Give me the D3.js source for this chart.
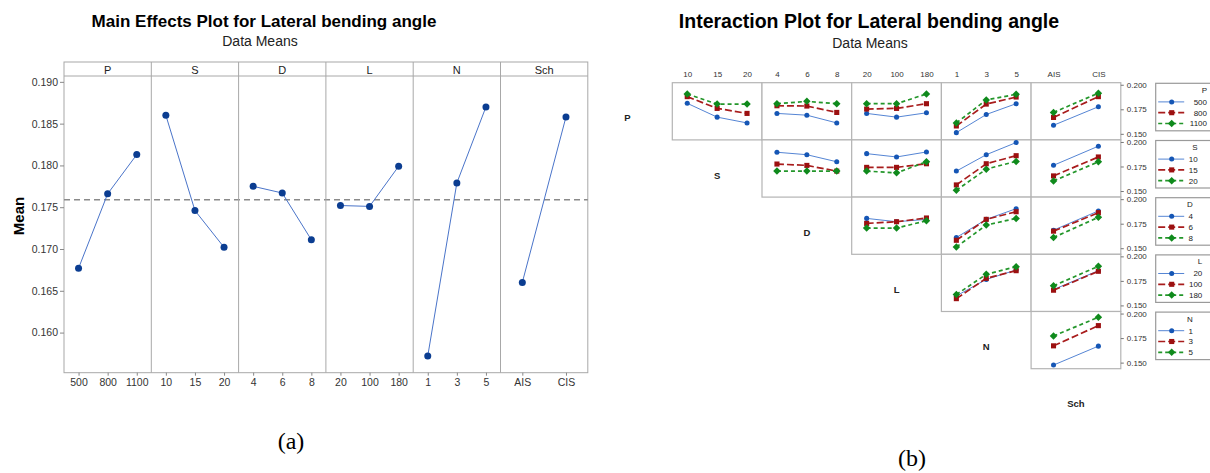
<!DOCTYPE html>
<html>
<head>
<meta charset="utf-8">
<script src="https://cdn.jsdelivr.net/npm/d3@7"></script>
<style>
  body { margin: 0; background: #fff; }
  svg { display: block; }
  text { font-family: "Liberation Sans", Arial, sans-serif; fill: #222; }
</style>
</head>
<body>
<svg id="chart" width="1210" height="473"></svg>
<script>
//------------------------------------------------------------------------------
// data
//------------------------------------------------------------------------------
var factors = ["P", "S", "D", "L", "N", "Sch"];

var levelsP = ["500", "800", "1100"];
var levelsS = ["10", "15", "20"];
var levelsD = ["4", "6", "8"];
var levelsL = ["20", "100", "180"];
var levelsN = ["1", "3", "5"];
var levelsSch = ["AIS", "CIS"];

// main effects (a)
var meanP = [0.1677, 0.1766, 0.1813];
var meanS = [0.1860, 0.1746, 0.1702];
var meanD = [0.1775, 0.1767, 0.1711];
var meanL = [0.1752, 0.1751, 0.1799];
var meanN = [0.1572, 0.1779, 0.1870];
var meanSch = [0.1660, 0.1858];
var grandMean = 0.1759;
var mainTicks = [0.160, 0.165, 0.170, 0.175, 0.180, 0.185, 0.190];

// interaction means (b): one row per level of the row factor
var intPS = [[0.1811, 0.1670, 0.1611], [0.1879, 0.1759, 0.1708], [0.1906, 0.1803, 0.1803]];
var intPD = [[0.1708, 0.1690, 0.1611], [0.1786, 0.1783, 0.1718], [0.1807, 0.1831, 0.1807]];
var intPL = [[0.1708, 0.1670, 0.1714], [0.1752, 0.1759, 0.1807], [0.1807, 0.1807, 0.1906]];
var intPN = [[0.1512, 0.1697, 0.1807], [0.1580, 0.1803, 0.1875], [0.1611, 0.1845, 0.1903]];
var intPSch = [[0.1587, 0.1776], [0.1667, 0.1879], [0.1718, 0.1914]];
var intSD = [[0.1895, 0.1870, 0.1798], [0.1775, 0.1761, 0.1703], [0.1703, 0.1703, 0.1703]];
var intSL = [[0.1881, 0.1847, 0.1898], [0.1741, 0.1741, 0.1778], [0.1703, 0.1685, 0.1798]];
var intSN = [[0.1703, 0.1870, 0.1994], [0.1562, 0.1778, 0.1860], [0.1507, 0.1723, 0.1802]];
var intSSch = [[0.1762, 0.1957], [0.1654, 0.1847], [0.1603, 0.1798]];
var intDL = [[0.1804, 0.1770, 0.1794], [0.1753, 0.1770, 0.1808], [0.1705, 0.1705, 0.1780]];
var intDN = [[0.1609, 0.1794, 0.1903], [0.1581, 0.1794, 0.1872], [0.1512, 0.1736, 0.1804]];
var intDSch = [[0.1684, 0.1880], [0.1674, 0.1862], [0.1609, 0.1815]];
var intLN = [[0.1597, 0.1765, 0.1861], [0.1569, 0.1776, 0.1854], [0.1611, 0.1817, 0.1895]];
var intLSch = [[0.1662, 0.1854], [0.1655, 0.1848], [0.1700, 0.1899]];
var intNSch = [[0.1475, 0.1668], [0.1671, 0.1877], [0.1771, 0.1963]];
var intTicks = [0.150, 0.175, 0.200];

//------------------------------------------------------------------------------
var levels = { P: levelsP, S: levelsS, D: levelsD, L: levelsL, N: levelsN, Sch: levelsSch };
var means = { P: meanP, S: meanS, D: meanD, L: meanL, N: meanN, Sch: meanSch };
var inter = {
	P: { S: intPS, D: intPD, L: intPL, N: intPN, Sch: intPSch },
	S: { D: intSD, L: intSL, N: intSN, Sch: intSSch },
	D: { L: intDL, N: intDN, Sch: intDSch },
	L: { N: intLN, Sch: intLSch },
	N: { Sch: intNSch }
};

var svg = d3.select("#chart");
var fmt = d3.format(".3f");
var grid = "#a8a8a8";

//------------------------------------------------------------------------------
// (a) main effects plot
//------------------------------------------------------------------------------
var ma = { l: 64, r: 587.8, t: 62, strip: 76, b: 372.7 };

svg.append("text").attr("x", 264).attr("y", 27).attr("text-anchor", "middle")
	.style("font-size", "17px").style("font-weight", "bold").style("fill", "#000")
	.text("Main Effects Plot for Lateral bending angle");
svg.append("text").attr("x", 260).attr("y", 46).attr("text-anchor", "middle")
	.style("font-size", "14px").text("Data Means");

var y = d3.scaleLinear().domain([0.1552, 0.1907]).range([ma.b, ma.strip]);
var band = d3.scaleBand().domain(factors).range([ma.l, ma.r]);

var ga = svg.append("g");

// frame + strip
ga.append("rect").attr("x", ma.l).attr("y", ma.t).attr("width", ma.r - ma.l).attr("height", ma.b - ma.t)
	.attr("fill", "#fff").attr("stroke", grid);
ga.append("line").attr("x1", ma.l).attr("x2", ma.r).attr("y1", ma.strip).attr("y2", ma.strip).attr("stroke", grid);

// y axis
var yAxis = ga.append("g").attr("transform", "translate(" + ma.l + ",0)")
	.call(d3.axisLeft(y).tickValues(mainTicks).tickFormat(fmt).tickSize(4).tickSizeOuter(0));
yAxis.select(".domain").remove();
yAxis.selectAll("line").attr("stroke", "#888");
yAxis.selectAll("text").style("font-size", "10.5px").style("fill", "#333").attr("x", -6);

svg.append("text").attr("transform", "translate(24,216)rotate(-90)").attr("text-anchor", "middle")
	.style("font-size", "15px").style("font-weight", "bold").style("fill", "#000").text("Mean");

// grand mean reference
ga.append("line").attr("x1", ma.l).attr("x2", ma.r).attr("y1", y(grandMean)).attr("y2", y(grandMean))
	.attr("stroke", "#8a8a8a").attr("stroke-width", 1.6).attr("stroke-dasharray", "6,4");

factors.forEach(function(f, i) {
	var x0 = band(f), bw = band.bandwidth();
	var x = d3.scalePoint().domain(levels[f]).range([0, bw]).padding(0.5);
	var g = ga.append("g").attr("transform", "translate(" + x0 + ",0)");

	if (i > 0) g.append("line").attr("x1", 0).attr("x2", 0).attr("y1", ma.t).attr("y2", ma.b).attr("stroke", grid);

	g.append("text").attr("x", bw / 2).attr("y", 74).attr("text-anchor", "middle")
		.style("font-size", "11px").text(f);

	var xa = g.append("g").attr("transform", "translate(0," + ma.b + ")")
		.call(d3.axisBottom(x).tickSize(3).tickSizeOuter(0));
	xa.select(".domain").remove();
	xa.selectAll("line").attr("stroke", "#888");
	xa.selectAll("text").style("font-size", "10.5px").style("fill", "#333").attr("y", 6);

	var pts = levels[f].map(function(l, k) { return [x(l), y(means[f][k])]; });
	g.append("path").attr("d", d3.line()(pts)).attr("fill", "none")
		.attr("stroke", "#4a74c9").attr("stroke-width", 1);
	g.selectAll("circle").data(pts).enter().append("circle")
		.attr("cx", function(d) { return d[0]; }).attr("cy", function(d) { return d[1]; })
		.attr("r", 3.5).attr("fill", "#0b3d91");
});

svg.append("text").attr("x", 291).attr("y", 449).attr("text-anchor", "middle")
	.style("font-family", "'Liberation Serif', 'Times New Roman', serif").style("font-size", "24px").style("fill", "#000")
	.text("(a)");

//------------------------------------------------------------------------------
// (b) interaction plot
//------------------------------------------------------------------------------
var colF = ["S", "D", "L", "N", "Sch"];
var rowF = ["P", "S", "D", "L", "N"];
var colScale = d3.scaleBand().domain(colF).range([672.3, 1120.8]);
var rowScale = d3.scaleBand().domain(rowF).range([82.7, 368.7]);
var cw = colScale.bandwidth(), rh = rowScale.bandwidth();

svg.append("text").attr("x", 869).attr("y", 28).attr("text-anchor", "middle")
	.style("font-size", "19.5px").style("font-weight", "bold").style("fill", "#000")
	.text("Interaction Plot for Lateral bending angle");
svg.append("text").attr("x", 870).attr("y", 48).attr("text-anchor", "middle")
	.style("font-size", "14px").text("Data Means");

var series = [
	{ line: "#5585d4", mark: "#1556b5", dash: null, w: 1, sym: d3.symbol(d3.symbolCircle, 20), rot: 0 },
	{ line: "#a81c1c", mark: "#9c1010", dash: "7,3", w: 1.7, sym: d3.symbol(d3.symbolSquare, 26), rot: 0 },
	{ line: "#23962a", mark: "#0f8a1c", dash: "4,3", w: 1.7, sym: d3.symbol(d3.symbolSquare, 28), rot: 45 }
];

var gb = svg.append("g");

// column tick labels on top
colF.forEach(function(cf) {
	var x = d3.scalePoint().domain(levels[cf]).range([0, cw]).padding(0.5);
	var xa = gb.append("g").attr("transform", "translate(" + colScale(cf) + ",80)")
		.call(d3.axisTop(x).tickSize(0).tickSizeOuter(0));
	xa.select(".domain").remove();
	xa.selectAll("text").style("font-size", "8px").style("fill", "#333").attr("y", -3);
});

// diagonal factor names
factors.forEach(function(f, i) {
	gb.append("text").attr("x", 672.3 + (i - 0.5) * cw).attr("y", 82.7 + i * rh + 38.7)
		.attr("text-anchor", "middle").style("font-size", "9.5px").style("font-weight", "bold").text(f);
});

rowF.forEach(function(rf, ri) {
	var top = rowScale(rf);
	var yr = d3.scaleLinear().domain([0.1438, 0.2021]).range([top + rh, top]);

	colF.forEach(function(cf, ci) {
		if (ci < ri) return;
		var x = d3.scalePoint().domain(levels[cf]).range([0, cw]).padding(0.5);
		var g = gb.append("g").attr("transform", "translate(" + colScale(cf) + ",0)");
		g.append("rect").attr("x", 0).attr("y", top).attr("width", cw).attr("height", rh)
			.attr("fill", "#fff").attr("stroke", "#b4b4b4").attr("stroke-width", 1.2);

		inter[rf][cf].forEach(function(vals, si) {
			var s = series[si];
			var pts = vals.map(function(v, k) { return [x(levels[cf][k]), yr(v)]; });
			g.append("path").attr("d", d3.line()(pts)).attr("fill", "none")
				.attr("stroke", s.line).attr("stroke-width", s.w).attr("stroke-dasharray", s.dash);
			g.selectAll(".m" + si).data(pts).enter().append("path").attr("class", "m" + si)
				.attr("d", s.sym)
				.attr("transform", function(d) { return "translate(" + d[0] + "," + d[1] + ")rotate(" + s.rot + ")"; })
				.attr("fill", s.mark);
		});
	});

	// right y axis
	var ya = gb.append("g").attr("transform", "translate(1120.8,0)")
		.call(d3.axisRight(yr).tickValues(intTicks).tickFormat(fmt).tickSize(3).tickSizeOuter(0));
	ya.select(".domain").remove();
	ya.selectAll("line").attr("stroke", "#777");
	ya.selectAll("text").style("font-size", "8px").style("fill", "#333").attr("x", 6);

	// legend
	var lg = gb.append("g").attr("transform", "translate(1155.7," + (top + 0.6) + ")");
	lg.append("rect").attr("width", 62).attr("height", 47.5).attr("fill", "#fff")
		.attr("stroke", "#9a9a9a").attr("stroke-width", 1.2);
	var maxLen = d3.max(levels[rf], function(l) { return l.length; });
	var tx = 32.5 + maxLen * 4.7;
	lg.append("text").attr("x", tx).attr("y", 9.5).attr("text-anchor", "end")
		.style("font-size", "8px").text(rf);
	levels[rf].forEach(function(l, k) {
		var s = series[k], yy = 18.6 + k * 10.8;
		lg.append("line").attr("x1", 2.5).attr("x2", 28.5).attr("y1", yy).attr("y2", yy)
			.attr("stroke", s.line).attr("stroke-width", s.w).attr("stroke-dasharray", s.dash);
		lg.append("path").attr("d", s.sym)
			.attr("transform", "translate(16," + yy + ")rotate(" + s.rot + ")").attr("fill", s.mark);
		lg.append("text").attr("x", tx).attr("y", yy + 3).attr("text-anchor", "end")
			.style("font-size", "8px").text(l);
	});
});

svg.append("text").attr("x", 912).attr("y", 466).attr("text-anchor", "middle")
	.style("font-family", "'Liberation Serif', 'Times New Roman', serif").style("font-size", "24px").style("fill", "#000")
	.text("(b)");
</script>
</body>
</html>
